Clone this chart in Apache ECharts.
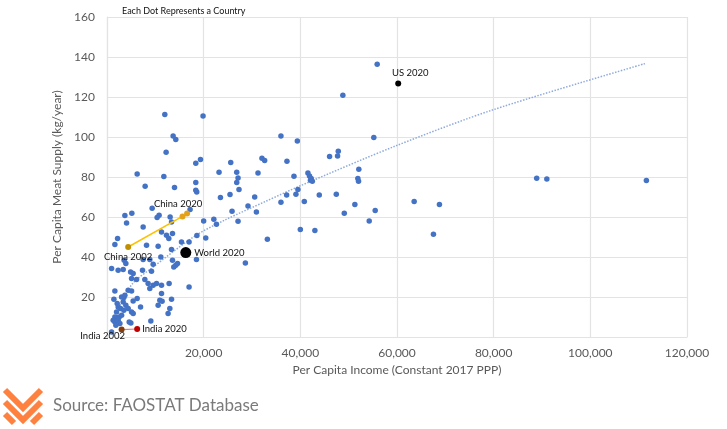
<!DOCTYPE html>
<html>
<head>
<meta charset="utf-8">
<script src="https://cdn.jsdelivr.net/npm/echarts@6/dist/echarts.min.js"></script>
<style>
html, body { margin: 0; background: #fff; }
#chart { width: 727px; height: 429px; }
</style>
</head>
<body>
<div id="chart"></div>
<script>
// per capita income (constant 2017 PPP) and meat supply (kg/year), one entry per country
var countryIncome = [
    11960, 19870, 13680, 14230, 12230, 18370, 19340, 25600, 6240, 11760,
    18370, 23180, 26840, 31240, 7890, 13970, 18370, 18570, 27110, 26840,
    27310, 25450, 23470, 30560, 9340, 17190, 25870, 29170, 30910, 3700,
    5140, 10780, 10370, 13060, 22100, 20000, 4050, 13350, 22640, 27110,
    7480, 11280, 12310, 12790, 13550, 18600, 20430, 2190, 1630, 8180,
    10580, 15410, 16980, 13350, 7480, 11140, 3550, 3900, 8860, 9550,
    13550, 14590, 14230, 13820, 18510, 28630, 950, 2310, 3350, 4880,
    5410, 7350, 9210, 5080, 6120, 7830, 8510, 10250, 11280, 12850,
    16980, 1630, 4380, 5080, 6240, 1430, 3490, 5410, 10930, 11400,
    13350, 10580, 6940, 13000, 9070, 4940, 950, 9550, 8860, 11280,
    3020, 3700, 2110, 3350, 3900, 2310, 2810, 3490, 4380, 5080,
    5420, 1980, 1630, 2520, 3020, 1280, 1630, 2310, 2670, 1840,
    4590, 12640, 48800, 55900, 35990, 39380, 55200, 32060, 32620, 37230,
    46050, 47850, 47700, 38680, 41570, 41900, 42250, 42100, 42480, 52100,
    51900, 52040, 39500, 37170, 39090, 43920, 47440, 35990, 40820, 51280,
    55490, 63550, 68780, 49090, 54250, 40000, 43010, 33180, 67540, 88900,
    91000, 111600
];
var countryMeat = [
    111.2, 110.5, 100.5, 98.7, 92.4, 86.9, 88.7, 87.2, 81.5, 80.2,
    77.2, 82.4, 82.4, 82, 75.4, 74.7, 73.4, 72.5, 79.5, 77.2,
    73.7, 71.2, 69.7, 70, 64.4, 63.7, 62.9, 65.5, 62.5, 60.7,
    61.9, 60.9, 59.7, 60, 58.9, 58, 57, 57.5, 56.4, 57.9,
    55, 52.5, 50.9, 49.2, 51.7, 50.8, 49.5, 49.2, 46.2, 45.9,
    45.4, 47.5, 47.5, 43.7, 38.7, 40, 38.4, 36.7, 38.7, 36.4,
    38.4, 36.7, 35.9, 35, 38.7, 37, 34.2, 33.4, 33.7, 32.5,
    31.7, 33.4, 32.9, 29.2, 28.7, 28.7, 26.7, 26.7, 25.9, 26.7,
    25, 23, 23.4, 23, 19.2, 18.9, 19.7, 18, 18.4, 17.9,
    18.9, 15.9, 15, 14.2, 8, 7, 2.5, 25.9, 24.2, 21.7,
    20, 20.9, 16.7, 17.5, 15.9, 15, 14.2, 13.4, 14.2, 12.5,
    11.7, 12.5, 10, 10, 10.9, 8.4, 7.5, 8.4, 6.7, 5.9,
    7.5, 11.7, 120.9, 136.4, 100.5, 98, 99.7, 89.4, 88.2, 87.9,
    90.2, 92.9, 90.5, 80.4, 82, 80.5, 79.2, 78.4, 77.9, 83.9,
    79.2, 77.9, 73.7, 71, 71.4, 71, 71.4, 67.4, 67.7, 66.2,
    63.2, 67.7, 66.2, 61.9, 58, 53.7, 53.2, 48.9, 51.4, 79.4,
    79, 78.3
];

// dotted trend curve
var trendIncome = [1500, 2700, 5400, 9000, 18200, 24400, 33000, 40000, 60000, 80000, 111300];
var trendMeat   = [9, 16, 27, 34, 50.5, 58.5, 68, 75.6, 95.8, 113.7, 136.7];

// highlighted paths
var chinaIncome = [4380, 15620, 16570];
var chinaMeat   = [45, 60.3, 61.7];
var chinaLabels = ['China 2002', '', 'China 2020'];
var indiaIncome = [3020, 6240];
var indiaMeat   = [3.7, 4];
var indiaLabels = ['India 2002', 'India 2020'];
var worldPoint  = [16300, 42.2];
var usPoint     = [60250, 126.7];

function pairs(xs, ys) {
    var out = [];
    for (var i = 0; i < xs.length; i++) out.push([xs[i], ys[i]]);
    return out;
}

var font = 'Lato';
var labelStyle = { show: true, fontSize: 9.5, color: '#111', fontFamily: font };

var chinaData = pairs(chinaIncome, chinaMeat).map(function (p, i) {
    var d = { value: p, itemStyle: { color: i == 0 ? '#BF8F00' : '#E3A21A', opacity: 1 } };
    if (i == 0) d.label = Object.assign({}, labelStyle, { position: 'bottom', distance: 2, formatter: chinaLabels[i] });
    if (i == 2) d.label = Object.assign({}, labelStyle, { position: 'top', distance: 2, offset: [-9, 0], formatter: chinaLabels[i] });
    return d;
});

var indiaData = pairs(indiaIncome, indiaMeat).map(function (p, i) {
    var d = { value: p, itemStyle: { color: i == 0 ? '#843C0C' : '#C00000', opacity: 1 } };
    if (i == 0) d.label = Object.assign({}, labelStyle, { position: 'bottom', distance: 0, offset: [-19, -2], formatter: indiaLabels[i] });
    else d.label = Object.assign({}, labelStyle, { position: 'right', distance: 2, formatter: indiaLabels[i] });
    return d;
});

var myChart = echarts.init(document.getElementById('chart'));

var axisText = { color: '#595959', fontSize: 12, fontFamily: font };
var gridLine = { lineStyle: { color: '#e3e3e3', width: 1.2 } };

option = {
    animation: false,
    backgroundColor: '#fff',
    title: {
        text: 'Each Dot Represents a Country',
        left: 117, top: 2,
        textStyle: { fontSize: 9, fontWeight: 'normal', color: '#111', fontFamily: font }
    },
    grid: {
        left: 107, right: 40, top: 17, bottom: 92
    },
    xAxis: {
        type: 'value',
        min: 0, max: 120000, interval: 20000,
        axisLine: { show: true, lineStyle: { color: '#e3e3e3', width: 1.2 } },
        axisTick: { show: false },
        axisLabel: Object.assign({}, axisText, {
            margin: 10,
            showMinLabel: false,
            formatter: function (v) { return v.toLocaleString('en-US'); }
        }),
        splitLine: gridLine,
        name: 'Per Capita Income (Constant 2017 PPP)',
        nameLocation: 'middle',
        nameGap: 24,
        nameTextStyle: axisText
    },
    yAxis: {
        type: 'value',
        min: 0, max: 160, interval: 20,
        axisLine: { show: true, lineStyle: { color: '#e3e3e3', width: 1.2 } },
        axisTick: { show: false },
        axisLabel: Object.assign({}, axisText, { margin: 12, showMinLabel: false }),
        splitLine: gridLine,
        name: 'Per Capita Meat Supply (kg/year)',
        nameLocation: 'middle',
        nameGap: 42,
        nameTextStyle: axisText
    },
    graphic: [
        // orange chevron logo
        { type: 'polyline', shape: { points: [[5, 390], [23, 408], [41, 390]] }, style: { stroke: '#FF8140', lineWidth: 6, fill: null } },
        { type: 'polyline', shape: { points: [[5, 402], [23, 420], [41, 402]] }, style: { stroke: '#FF8140', lineWidth: 6, fill: null } },
        { type: 'polyline', shape: { points: [[5, 414], [14, 423]] }, style: { stroke: '#FF8140', lineWidth: 6, fill: null } },
        { type: 'polyline', shape: { points: [[32, 423], [41, 414]] }, style: { stroke: '#FF8140', lineWidth: 6, fill: null } },
        {
            type: 'text', left: 53, top: 397,
            style: { text: 'Source: FAOSTAT Database', fontSize: 17, fill: '#7a7a7a', fontFamily: font }
        }
    ],
    series: [{
        name: 'Countries',
        type: 'scatter',
        symbolSize: 5.5,
        itemStyle: { color: '#4472C4', opacity: 1 },
        data: pairs(countryIncome, countryMeat),
        z: 2
    }, {
        name: 'Trend',
        type: 'line',
        smooth: 0.3,
        showSymbol: false,
        lineStyle: { color: '#8FAADC', width: 1.5, type: 'dotted' },
        data: pairs(trendIncome, trendMeat),
        z: 1
    }, {
        name: 'China',
        type: 'line',
        symbol: 'circle',
        symbolSize: 6,
        lineStyle: { color: '#FFC000', width: 1.5 },
        data: chinaData,
        z: 3
    }, {
        name: 'India',
        type: 'line',
        symbol: 'circle',
        symbolSize: 6,
        lineStyle: { color: '#E8797A', width: 1.2 },
        data: indiaData,
        z: 3
    }, {
        name: 'World',
        type: 'scatter',
        symbolSize: 11,
        itemStyle: { color: '#000', opacity: 1 },
        label: Object.assign({}, labelStyle, { position: 'right', distance: 3, formatter: 'World 2020' }),
        data: [worldPoint],
        z: 4
    }, {
        name: 'US',
        type: 'scatter',
        symbolSize: 6,
        itemStyle: { color: '#000', opacity: 1 },
        label: Object.assign({}, labelStyle, { position: 'top', distance: 3, offset: [12, 0], formatter: 'US 2020' }),
        data: [usPoint],
        z: 4
    }]
};

myChart.setOption(option);
</script>
</body>
</html>
